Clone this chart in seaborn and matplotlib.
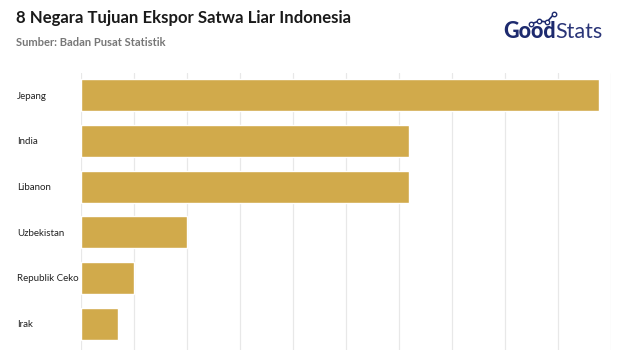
import matplotlib
matplotlib.use("Agg")
import matplotlib.pyplot as plt
import seaborn as sns
import pandas as pd

countries = ["Jepang", "India", "Libanon", "Uzbekistan", "Republik Ceko", "Irak"]
values = [9.78, 6.19, 6.19, 2.0, 1.0, 0.7]
title = "8 Negara Tujuan Ekspor Satwa Liar Indonesia"
subtitle = "Sumber: Badan Pusat Statistik"

df = pd.DataFrame({"negara": countries, "nilai": values})

sns.set_theme(style="white")
plt.rcParams["font.family"] = ["Lato", "DejaVu Sans"]

fig = plt.figure(figsize=(6.4, 3.5), dpi=100)
ax = fig.add_axes([81/640, 0.0, (611-81)/640, 1 - 73/350])

sns.barplot(data=df, x="nilai", y="negara", orient="h", color="#D1AA4B",
            saturation=1, width=0.7, ax=ax)

ax.set_xlim(0, 10)
ax.set_ylim(5.58, -0.49)
ax.set_xticks(range(0, 11))
ax.xaxis.grid(True, color="#e8e8e8", linewidth=0.9)
ax.set_axisbelow(True)
ax.tick_params(axis="x", length=0, labelbottom=False)
ax.tick_params(axis="y", length=0, pad=46, labelsize=7, labelcolor="#222222")
for lab in ax.get_yticklabels():
    lab.set_horizontalalignment("left")
ax.set_xlabel("")
ax.set_ylabel("")
for s in ax.spines.values():
    s.set_visible(False)

fig.text(16/640, 1 - 18/350, title, fontsize=12.1, fontweight="bold",
         color="#1a1a1a", va="center", ha="left")
fig.text(16/640, 1 - 43/350, subtitle, fontsize=8, fontweight="bold",
         color="#777777", va="center", ha="left")

# GoodStats logo as text
t1 = fig.text(503/640, 1 - 32/350, "Good", fontsize=15.5, fontweight="black",
              color="#1d2a6e", va="center", ha="left")
fig.canvas.draw()
bb = t1.get_window_extent()
fig.text(bb.x1/640, 1 - 32/350, "Stats", fontsize=15.5, fontweight="normal",
         color="#2a3578", va="center", ha="left")
xs = [531/640, 539/640, 547/640, 554/640]
ys = [1 - 24/350, 1 - 21/350, 1 - 22/350, 1 - 14/350]
fig.add_artist(plt.Line2D(xs, ys, color="#1d2a6e", linewidth=1.2,
                          marker="o", markersize=3.2, markerfacecolor="white",
                          markeredgecolor="#1d2a6e", transform=fig.transFigure))

fig.savefig("out.png", dpi=100)
